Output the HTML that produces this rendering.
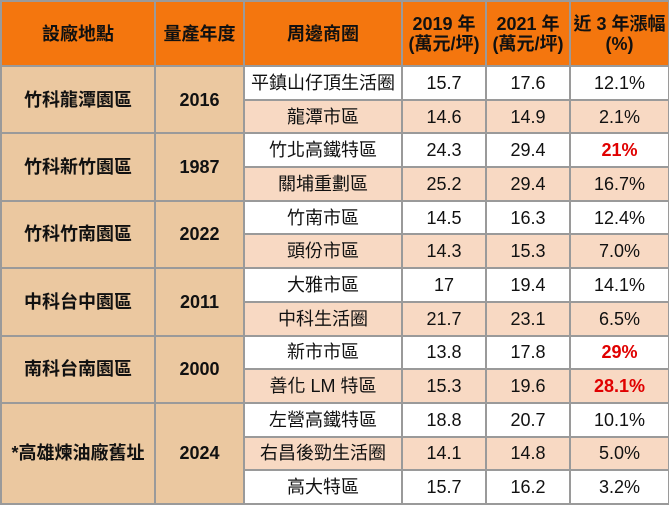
<!DOCTYPE html>
<html><head><meta charset="utf-8"><style>
html,body{margin:0;padding:0;background:#fff;width:669px;height:506px;overflow:hidden}
table{border-collapse:collapse;table-layout:fixed;position:absolute;left:0;top:0;width:668px;
font-family:"Liberation Sans","Noto Sans CJK TC",sans-serif;color:#111}
td,th{border:2px solid #9a9a9a;text-align:center;padding:0;font-size:18px;line-height:20px}
th{background:#F4760E;font-weight:bold;height:63px;font-size:18px}
td{height:31.7px;background:#fff}
td.g{background:#EBC8A0;font-weight:bold;font-size:18px}
tr.a td{background:#F8D9C3}
tr.a td.g{background:#EBC8A0}
.r{color:#e00000;font-weight:bold}
</style></head><body>
<table>
<colgroup><col style="width:154px"><col style="width:89px"><col style="width:158px"><col style="width:84px"><col style="width:84px"><col style="width:99px"></colgroup>
<tr><th>設廠地點</th><th>量產年度</th><th>周邊商圈</th><th>2019 年<br>(萬元/坪)</th><th>2021 年<br>(萬元/坪)</th><th>近 3 年漲幅<br>(%)</th></tr>
<tr><td class="g" rowspan="2">竹科龍潭園區</td><td class="g" rowspan="2">2016</td><td>平鎮山仔頂生活圈</td><td>15.7</td><td>17.6</td><td>12.1%</td></tr>
<tr class="a"><td>龍潭市區</td><td>14.6</td><td>14.9</td><td>2.1%</td></tr>
<tr><td class="g" rowspan="2">竹科新竹園區</td><td class="g" rowspan="2">1987</td><td>竹北高鐵特區</td><td>24.3</td><td>29.4</td><td class="r">21%</td></tr>
<tr class="a"><td>關埔重劃區</td><td>25.2</td><td>29.4</td><td>16.7%</td></tr>
<tr><td class="g" rowspan="2">竹科竹南園區</td><td class="g" rowspan="2">2022</td><td>竹南市區</td><td>14.5</td><td>16.3</td><td>12.4%</td></tr>
<tr class="a"><td>頭份市區</td><td>14.3</td><td>15.3</td><td>7.0%</td></tr>
<tr><td class="g" rowspan="2">中科台中園區</td><td class="g" rowspan="2">2011</td><td>大雅市區</td><td>17</td><td>19.4</td><td>14.1%</td></tr>
<tr class="a"><td>中科生活圈</td><td>21.7</td><td>23.1</td><td>6.5%</td></tr>
<tr><td class="g" rowspan="2">南科台南園區</td><td class="g" rowspan="2">2000</td><td>新市市區</td><td>13.8</td><td>17.8</td><td class="r">29%</td></tr>
<tr class="a"><td>善化 LM 特區</td><td>15.3</td><td>19.6</td><td class="r">28.1%</td></tr>
<tr><td class="g" rowspan="3">*高雄煉油廠舊址</td><td class="g" rowspan="3">2024</td><td>左營高鐵特區</td><td>18.8</td><td>20.7</td><td>10.1%</td></tr>
<tr class="a"><td>右昌後勁生活圈</td><td>14.1</td><td>14.8</td><td>5.0%</td></tr>
<tr><td>高大特區</td><td>15.7</td><td>16.2</td><td>3.2%</td></tr>
</table>
</body></html>
